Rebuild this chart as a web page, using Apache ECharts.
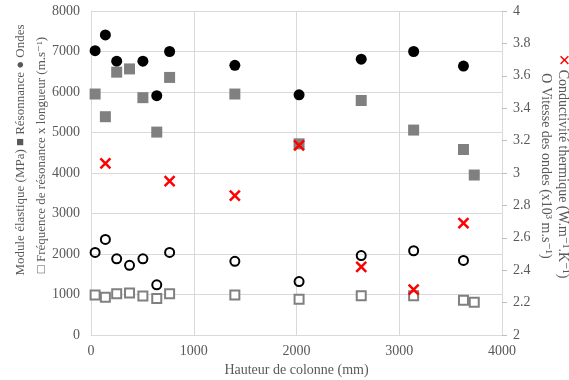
<!DOCTYPE html>
<html>
<head>
<meta charset="utf-8">
<script src="https://cdn.jsdelivr.net/npm/echarts@6/dist/echarts.min.js"></script>
<style>
  html, body { margin: 0; padding: 0; background: #fff; }
  #chart { width: 569px; height: 380px; }
</style>
</head>
<body>
<div id="chart"></div>
<script>
// hauteur de colonne (mm)
const heights = [40, 140, 250, 375, 505, 640, 765, 1400, 2025, 2630, 3140, 3625, 3730];

// axe gauche (MPa / m.s-1)
const ondes = [7020, 7410, 6760, null, 6760, 5910, 7000, 6660, 5930, 6810, 7000, 6640, null];
const resonnance = [5950, 5390, 6490, 6570, 5860, 5010, 6360, 5950, 4720, 5790, 5060, 4580, 3950];
const frequenceLongueur = [990, 930, 1020, 1040, 960, 900, 1020, 990, 880, 970, 970, 860, 810];

// axe droit
const conductivite = [null, 3.06, null, null, null, null, 2.95, 2.86, 3.17, 2.42, 2.28, 2.69, null];
const vitesse = [2.51, 2.59, 2.47, 2.43, 2.47, 2.31, 2.51, 2.455, 2.33, 2.49, 2.52, 2.46, null];

const xTicks = [0, 1000, 2000, 3000, 4000];
const leftTicks = [0, 1000, 2000, 3000, 4000, 5000, 6000, 7000, 8000];
const rightTicks = [2, 2.2, 2.4, 2.6, 2.8, 3, 3.2, 3.4, 3.6, 3.8, 4];

const leftTitle1 = 'Module élastique (MPa) ■ Résonnance ● Ondes';
const leftTitle2 = '□ Fréquence de résonance x longueur (m.s⁻¹)';
const rightTitle1 = 'Conductivité thermique (W.m⁻¹.K⁻¹)';
const rightTitle2 = 'O Vitesse des ondes (x10³ m.s⁻¹)';

const FONT = '"Liberation Serif", "DejaVu Serif", serif';
const GRID = '#d9d9d9';
const TXT = '#595959';

function pairs(vals) {
    const out = [];
    vals.forEach((v, i) => {
        if (v !== null) out.push([heights[i], v]);
    });
    return out;
}

function sideTitle(text, x, y, rot, size, rich) {
    return {
        type: 'text',
        x: x,
        y: y,
        rotation: rot,
        style: {
            text: text,
            font: size + 'px ' + FONT,
            fill: TXT,
            align: 'center',
            verticalAlign: 'middle',
            rich: rich
        }
    };
}

const chart = echarts.init(document.getElementById('chart'));
chart.setOption({
    animation: false,
    grid: { left: 91, right: 67, top: 11, bottom: 45, outerBoundsMode: 'none' },
    graphic: [
        sideTitle(leftTitle1, 21, 150, Math.PI / 2, 13),
        sideTitle(leftTitle2, 42, 155, Math.PI / 2, 13),
        sideTitle('{x|✕} ' + rightTitle1, 563, 166, -Math.PI / 2, 14, {
            x: { fill: '#ff0000', font: '15px "DejaVu Sans"' }
        }),
        sideTitle(rightTitle2, 546, 166, -Math.PI / 2, 14)
    ],
    xAxis: {
        type: 'value',
        min: xTicks[0],
        max: xTicks[xTicks.length - 1],
        interval: 1000,
        name: 'Hauteur de colonne (mm)',
        nameLocation: 'middle',
        nameGap: 27,
        nameTextStyle: { fontFamily: FONT, fontSize: 14, color: TXT },
        axisLine: { lineStyle: { color: GRID } },
        axisTick: { show: false },
        axisLabel: { fontFamily: FONT, fontSize: 14, color: TXT, margin: 9, formatter: v => String(v) },
        splitLine: { lineStyle: { color: GRID } }
    },
    yAxis: [{
        type: 'value',
        min: leftTicks[0],
        max: leftTicks[leftTicks.length - 1],
        interval: 1000,
        axisLine: { show: true, lineStyle: { color: GRID } },
        axisTick: { show: false },
        axisLabel: { fontFamily: FONT, fontSize: 14, color: TXT, margin: 11, formatter: v => String(v) },
        splitLine: { lineStyle: { color: GRID } }
    }, {
        type: 'value',
        position: 'right',
        min: rightTicks[0],
        max: rightTicks[rightTicks.length - 1],
        interval: 0.2,
        axisLine: { show: true, lineStyle: { color: GRID } },
        axisTick: { show: true, length: 5, lineStyle: { color: '#bfbfbf' } },
        axisLabel: {
            fontFamily: FONT, fontSize: 14, color: TXT, margin: 11,
            formatter: v => String(+v.toFixed(1))
        },
        splitLine: { show: false }
    }],
    series: [{
        name: 'Ondes',
        type: 'scatter',
        yAxisIndex: 0,
        symbol: 'circle',
        symbolSize: 11,
        itemStyle: { color: '#000', opacity: 1 },
        data: pairs(ondes)
    }, {
        name: 'Résonnance',
        type: 'scatter',
        yAxisIndex: 0,
        symbol: 'rect',
        symbolSize: 11,
        itemStyle: { color: '#808080', opacity: 1 },
        data: pairs(resonnance)
    }, {
        name: 'Fréquence x longueur',
        type: 'scatter',
        yAxisIndex: 0,
        symbol: 'rect',
        symbolSize: 9,
        itemStyle: { color: '#fff', borderColor: '#808080', borderWidth: 2, opacity: 1 },
        data: pairs(frequenceLongueur)
    }, {
        name: 'Vitesse des ondes',
        type: 'scatter',
        yAxisIndex: 1,
        symbol: 'circle',
        symbolSize: 9,
        itemStyle: { color: 'rgba(255,255,255,0)', borderColor: '#000', borderWidth: 2, opacity: 1 },
        data: pairs(vitesse)
    }, {
        name: 'Conductivité thermique',
        type: 'scatter',
        yAxisIndex: 1,
        symbol: 'path://M0,0L10,10M10,0L0,10',
        symbolSize: 10,
        itemStyle: { color: 'rgba(0,0,0,0)', borderColor: '#ff0000', borderWidth: 2.5, opacity: 1 },
        data: pairs(conductivite)
    }]
});
</script>
</body>
</html>
